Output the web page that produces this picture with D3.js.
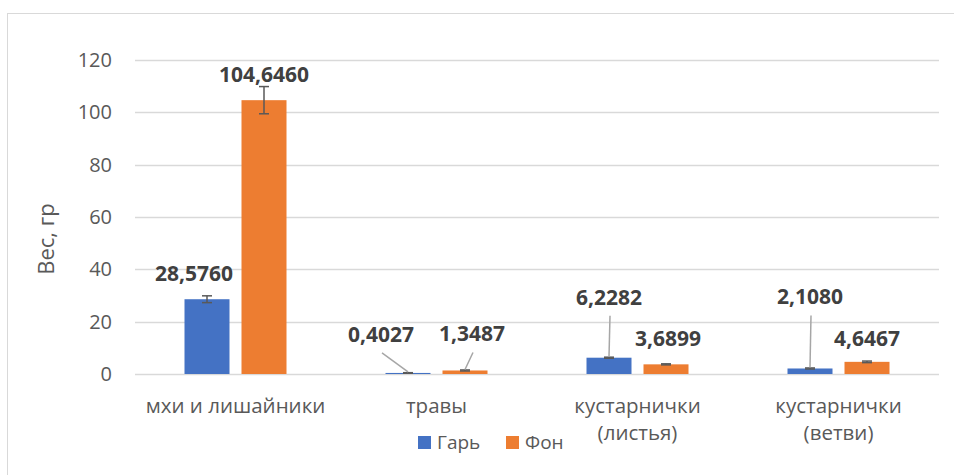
<!DOCTYPE html>
<meta charset="utf-8">
<style>
  body { margin: 0; background: #fff; }
  text { font-family: "Open Sans", sans-serif; }
</style>
<svg width="954" height="475"></svg>
<script src="https://d3js.org/d3.v7.min.js"></script>
<script>

var categories = ["мхи и лишайники", "травы", "кустарнички (листья)", "кустарнички (ветви)"],
    seriesNames = ["Гарь", "Фон"],
    garValues = [28.5760, 0.4027, 6.2282, 2.1080],
    fonValues = [104.6460, 1.3487, 3.6899, 4.6467],
    garErrors = [1.3, 0.1, 0.2, 0.2],
    fonErrors = [5.2, 0.2, 0.2, 0.3],
    yTicks = [0, 20, 40, 60, 80, 100, 120];

var colors = ["#4472c4", "#ed7d31"];

// where Excel's dragged labels ended up: [dx, dy from bar top, leader line?]
var garLabelPos = [[-13, -18, false], [-27, -31, true], [0, -53, true], [0, -64, true]],
    fonLabelPos = [[0, -18, false], [7, -29, true], [2, -18, false], [0, -16, false]];

var svg = d3.select("svg");

// chart frame
svg.append("rect")
    .attr("x", 7.5).attr("y", 13.5)
    .attr("width", 1000).attr("height", 600)
    .attr("fill", "none").attr("stroke", "#d9d9d9");

var x0 = d3.scaleBand().domain(categories).range([135, 939]),
    x1 = d3.scaleBand().domain(seriesNames).range([-51, 51]).paddingInner(12 / 57),
    y = d3.scaleLinear().domain([0, 120]).range([374, 60]);

// gridlines
svg.append("g").selectAll("line")
    .data(yTicks)
    .join("line")
    .attr("x1", 135).attr("x2", 939)
    .attr("y1", function(d) { return Math.round(y(d)) + 0.5; })
    .attr("y2", function(d) { return Math.round(y(d)) + 0.5; })
    .attr("stroke", "#d9d9d9").attr("stroke-width", 1.3);

// y axis labels
var yAxis = svg.append("g")
    .attr("transform", "translate(112,0)")
    .call(d3.axisLeft(y).tickValues(yTicks).tickSize(0).tickPadding(0));
yAxis.select(".domain").remove();
yAxis.selectAll("text")
    .attr("font-family", "Open Sans").attr("font-size", 20).attr("fill", "#595959");

// x axis labels
var xAxis = svg.append("g")
    .attr("transform", "translate(0,374)")
    .call(d3.axisBottom(x0).tickSize(0).tickPadding(0));
xAxis.select(".domain").remove();
xAxis.selectAll("text").remove();
xAxis.selectAll(".tick").each(function(d) {
  var lines = d.replace(" (", "\n(").split("\n");
  var t = d3.select(this).append("text")
      .attr("text-anchor", "middle")
      .attr("font-family", "Open Sans").attr("font-size", 20.5).attr("fill", "#595959");
  lines.forEach(function(s, i) {
    t.append("tspan").attr("x", 0).attr("y", 39 + i * 27).text(s);
  });
});

var rows = categories.map(function(c, i) {
  return [
    {cat: c, s: seriesNames[0], v: garValues[i], e: garErrors[i], pos: garLabelPos[i], color: colors[0]},
    {cat: c, s: seriesNames[1], v: fonValues[i], e: fonErrors[i], pos: fonLabelPos[i], color: colors[1]}
  ];
});
var marks = d3.merge(rows);

function cx(d) { return x0(d.cat) + x0.bandwidth() / 2 + x1(d.s) + x1.bandwidth() / 2; }

// bars
svg.append("g").selectAll("rect")
    .data(marks)
    .join("rect")
    .attr("x", function(d) { return cx(d) - x1.bandwidth() / 2; })
    .attr("y", function(d) { return y(d.v); })
    .attr("width", x1.bandwidth())
    .attr("height", function(d) { return y(0) - y(d.v); })
    .attr("fill", function(d) { return d.color; });

// error bars
var err = svg.append("g").attr("stroke", "#595959").attr("stroke-width", 1.5);
marks.forEach(function(d) {
  var c = cx(d);
  err.append("line").attr("x1", c).attr("x2", c).attr("y1", y(d.v + d.e)).attr("y2", y(d.v - d.e));
  err.append("line").attr("x1", c - 5).attr("x2", c + 5).attr("y1", y(d.v + d.e)).attr("y2", y(d.v + d.e));
  err.append("line").attr("x1", c - 5).attr("x2", c + 5).attr("y1", y(d.v - d.e)).attr("y2", y(d.v - d.e));
});

// leader lines
svg.append("g").selectAll("line")
    .data(marks.filter(function(d) { return d.pos[2]; }))
    .join("line")
    .attr("x1", function(d) { return cx(d) + d.pos[0] + 1; })
    .attr("y1", function(d) { return y(d.v) + d.pos[1] + 11; })
    .attr("x2", function(d) { return cx(d); })
    .attr("y2", function(d) { return y(d.v) - 1; })
    .attr("stroke", "#a6a6a6").attr("stroke-width", 1.5);

// data labels
svg.append("g").selectAll("text")
    .data(marks)
    .join("text")
    .attr("x", function(d) { return cx(d) + d.pos[0]; })
    .attr("y", function(d) { return y(d.v) + d.pos[1]; })
    .attr("text-anchor", "middle")
    .attr("font-size", 21).attr("font-weight", "bold").attr("fill", "#404040")
    .text(function(d) { return d.v.toFixed(4).replace(".", ","); });

// axis title
svg.append("text")
    .attr("transform", "translate(54,239) rotate(-90)")
    .attr("text-anchor", "middle")
    .attr("font-size", 22).attr("fill", "#595959")
    .text("Вес, гр");

// legend
var legend = svg.append("g").selectAll("g")
    .data(seriesNames)
    .join("g")
    .attr("transform", function(d, i) { return "translate(" + (418 + i * 88) + ",436)"; });
legend.append("rect")
    .attr("width", 13).attr("height", 13)
    .attr("fill", function(d, i) { return colors[i]; });
legend.append("text")
    .attr("x", 19).attr("y", 12.5)
    .attr("font-size", 19).attr("fill", "#595959")
    .text(function(d) { return d; });

</script>
